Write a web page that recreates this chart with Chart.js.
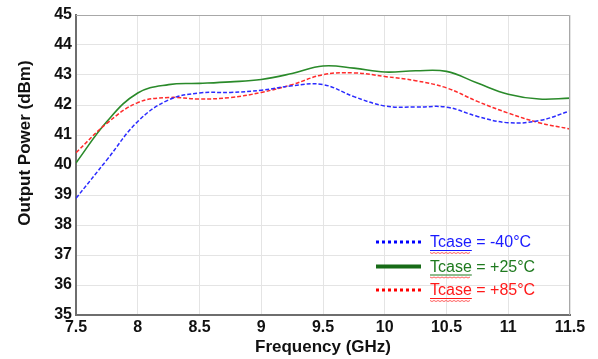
<!DOCTYPE html>
<html>
<head>
<meta charset="utf-8">
<script src="https://cdn.jsdelivr.net/npm/chart.js@4"></script>
<style>
  html, body { margin: 0; padding: 0; background: #fff; }
  #wrap { width: 598px; height: 359px; }
</style>
</head>
<body>
<div id="wrap"><canvas id="chart" width="598" height="359"></canvas></div>
<script>
// frequency points (GHz)
const freqs = [7.5, 7.75, 8, 8.25, 8.5, 8.75, 9, 9.25, 9.5, 9.75, 10, 10.25, 10.5, 10.75, 11, 11.25, 11.5]

// output power (dBm)
const pMinus40 = [38.89, 40.17, 41.45, 42.17, 42.4, 42.42, 42.49, 42.64, 42.68, 42.28, 41.97, 41.93, 41.93, 41.62, 41.41, 41.48, 41.8]
const pPlus25  = [40.07, 41.45, 42.4, 42.68, 42.72, 42.77, 42.85, 43.05, 43.3, 43.23, 43.1, 43.14, 43.12, 42.73, 42.36, 42.2, 42.23]
const pPlus85  = [40.41, 41.39, 42.08, 42.25, 42.2, 42.25, 42.42, 42.68, 43.01, 43.07, 42.95, 42.81, 42.57, 42.12, 41.73, 41.41, 41.2]

const seriesNames = ['Tcase = -40°C', 'Tcase = +25°C', 'Tcase = +85°C']

// axis ticks
const xMin = 7.5, xMax = 11.5, xStep = 0.5
const yMin = 35, yMax = 45, yStep = 1

function toPoints(vals){
  return freqs.map((f, i) => ({ x: f, y: vals[i] }))
}

const legendItems = [
  { text: seriesNames[0], color: '#1a1aff', line: '#0000ff', width: 3, dash: [3, 3] },
  { text: seriesNames[1], color: '#1f7a1f', line: '#176b17', width: 4, dash: [] },
  { text: seriesNames[2], color: '#ff1a1a', line: '#ff0000', width: 3, dash: [3, 3] }
]

// frame, axis titles and legend
const extras = {
  id: 'extras',
  afterDraw(chart){
    const ctx = chart.ctx
    const a = chart.chartArea
    ctx.save()

    // light top/right border
    ctx.strokeStyle = '#a8a8a8'
    ctx.lineWidth = 1
    ctx.beginPath()
    ctx.moveTo(a.left, a.top + 0.5)
    ctx.lineTo(a.right - 0.5, a.top + 0.5)
    ctx.lineTo(a.right - 0.5, a.bottom)
    ctx.stroke()

    // axis titles
    ctx.fillStyle = '#111'
    ctx.font = 'bold 17px "Liberation Sans", Arial, sans-serif'
    ctx.textAlign = 'center'
    ctx.textBaseline = 'middle'
    ctx.fillText('Frequency (GHz)', (a.left + a.right) / 2, 347)
    ctx.save()
    ctx.translate(25, 143)
    ctx.rotate(-Math.PI / 2)
    ctx.fillText('Output Power (dBm)', 0, 0)
    ctx.restore()

    // legend
    ctx.font = '16px "Liberation Sans", Arial, sans-serif'
    ctx.textAlign = 'left'
    const rows = [242, 266.5, 290]
    legendItems.forEach((it, i) => {
      const y = rows[i]
      ctx.strokeStyle = it.line
      ctx.lineWidth = it.width
      ctx.setLineDash(it.dash)
      ctx.beginPath()
      ctx.moveTo(376, y)
      ctx.lineTo(421, y)
      ctx.stroke()
      ctx.setLineDash([])

      ctx.fillStyle = it.color
      ctx.fillText(it.text, 430, y + 1)

      // underline + spell-check squiggle under "Tcase"
      const w = ctx.measureText('Tcase').width
      ctx.strokeStyle = it.color
      ctx.lineWidth = 1
      ctx.beginPath()
      ctx.moveTo(430, y + 8.5)
      ctx.lineTo(430 + w, y + 8.5)
      ctx.stroke()
      ctx.strokeStyle = '#ff6060'
      ctx.beginPath()
      for (let x = 430; x <= 430 + w; x += 2){
        const yy = y + 10.5 + ((x - 430) / 2 % 2 ? 1 : 0)
        if (x === 430) ctx.moveTo(x, yy); else ctx.lineTo(x, yy)
      }
      ctx.stroke()
    })

    ctx.restore()
  }
}

const tickFont = { family: '"Liberation Sans", Arial, sans-serif', size: 16, weight: 'bold' }

new Chart(document.getElementById('chart'), {
  type: 'line',
  data: {
    datasets: [
      {
        label: seriesNames[0],
        data: toPoints(pMinus40),
        borderColor: '#2b2bff',
        borderWidth: 1.5,
        borderDash: [4, 2],
        pointRadius: 0,
        tension: 0.4
      },
      {
        label: seriesNames[2],
        data: toPoints(pPlus85),
        borderColor: '#ff2b2b',
        borderWidth: 1.5,
        borderDash: [4, 2],
        pointRadius: 0,
        tension: 0.4
      },
      {
        label: seriesNames[1],
        data: toPoints(pPlus25),
        borderColor: '#2a8a2a',
        borderWidth: 1.6,
        pointRadius: 0,
        tension: 0.4
      }
    ]
  },
  options: {
    responsive: false,
    animation: false,
    layout: { padding: { left: 0, right: 28, top: 15, bottom: 0 } },
    plugins: {
      legend: { display: false },
      tooltip: { enabled: false }
    },
    scales: {
      x: {
        type: 'linear',
        min: xMin,
        max: xMax,
        afterFit: (scale) => { scale.height = 44 },
        ticks: {
          stepSize: xStep,
          color: '#111',
          font: tickFont,
          padding: 3,
          maxRotation: 0,
          callback: (v) => String(v)
        },
        grid: { color: '#e4e4e4', lineWidth: 1, drawTicks: false },
        border: { color: '#6e6e6e', width: 2 }
      },
      y: {
        min: yMin,
        max: yMax,
        afterFit: (scale) => { scale.width = 76 },
        ticks: {
          stepSize: yStep,
          color: '#111',
          font: tickFont,
          padding: 4
        },
        grid: { color: '#e4e4e4', lineWidth: 1, drawTicks: false },
        border: { color: '#6e6e6e', width: 2 }
      }
    }
  },
  plugins: [extras]
})
</script>
</body>
</html>
